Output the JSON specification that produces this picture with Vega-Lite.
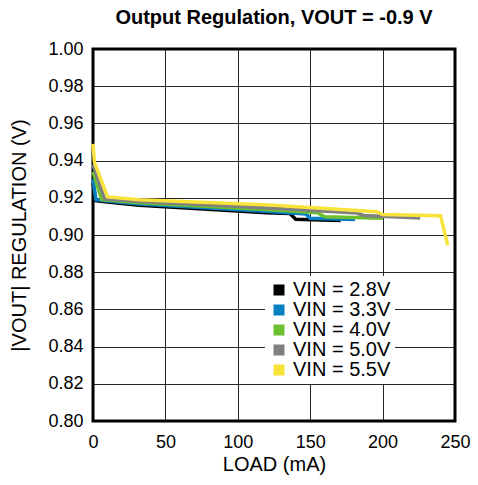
{
  "$schema": "https://vega.github.io/schema/vega-lite/v6.json",
  "autosize": {"type": "none"},
  "padding": {"left": 93, "top": 49, "right": 23, "bottom": 64},
  "width": 362,
  "height": 372,
  "background": "white",
  "title": {
    "text": "Output Regulation, VOUT = -0.9 V",
    "font": "Liberation Sans",
    "fontSize": 20,
    "fontWeight": "bold",
    "color": "#000000",
    "anchor": "middle",
    "offset": 12
  },
  "config": {
    "font": "Liberation Sans",
    "view": {"stroke": "#000000", "strokeWidth": 3},
    "axis": {
      "labelFont": "Liberation Sans",
      "titleFont": "Liberation Sans",
      "labelFontSize": 18,
      "titleFontSize": 20,
      "titleFontWeight": "normal",
      "labelColor": "#000000",
      "titleColor": "#000000",
      "labelFlush": false,
      "domain": false,
      "ticks": false,
      "grid": true,
      "gridColor": "#000000",
      "gridWidth": 1,
      "gridOpacity": 0.85
    }
  },
  "data": {
    "values": [
      {"load": 0, "v": 0.928, "s": "VIN = 2.8V"},
      {"load": 2, "v": 0.9185, "s": "VIN = 2.8V"},
      {"load": 10, "v": 0.9178, "s": "VIN = 2.8V"},
      {"load": 32, "v": 0.916, "s": "VIN = 2.8V"},
      {"load": 120, "v": 0.912, "s": "VIN = 2.8V"},
      {"load": 136, "v": 0.9115, "s": "VIN = 2.8V"},
      {"load": 140, "v": 0.9085, "s": "VIN = 2.8V"},
      {"load": 171, "v": 0.9078, "s": "VIN = 2.8V"},

      {"load": 0, "v": 0.930, "s": "VIN = 3.3V"},
      {"load": 2, "v": 0.919, "s": "VIN = 3.3V"},
      {"load": 10, "v": 0.9183, "s": "VIN = 3.3V"},
      {"load": 32, "v": 0.9166, "s": "VIN = 3.3V"},
      {"load": 122, "v": 0.9127, "s": "VIN = 3.3V"},
      {"load": 147, "v": 0.9113, "s": "VIN = 3.3V"},
      {"load": 150, "v": 0.909, "s": "VIN = 3.3V"},
      {"load": 181, "v": 0.9084, "s": "VIN = 3.3V"},

      {"load": 0, "v": 0.934, "s": "VIN = 4.0V"},
      {"load": 6, "v": 0.919, "s": "VIN = 4.0V"},
      {"load": 10, "v": 0.9188, "s": "VIN = 4.0V"},
      {"load": 32, "v": 0.9173, "s": "VIN = 4.0V"},
      {"load": 122, "v": 0.9136, "s": "VIN = 4.0V"},
      {"load": 155, "v": 0.912, "s": "VIN = 4.0V"},
      {"load": 160, "v": 0.9098, "s": "VIN = 4.0V"},
      {"load": 200, "v": 0.909, "s": "VIN = 4.0V"},

      {"load": 0, "v": 0.938, "s": "VIN = 5.0V"},
      {"load": 8, "v": 0.9195, "s": "VIN = 5.0V"},
      {"load": 32, "v": 0.918, "s": "VIN = 5.0V"},
      {"load": 122, "v": 0.9145, "s": "VIN = 5.0V"},
      {"load": 182, "v": 0.9118, "s": "VIN = 5.0V"},
      {"load": 187, "v": 0.9105, "s": "VIN = 5.0V"},
      {"load": 226, "v": 0.9092, "s": "VIN = 5.0V"},

      {"load": 0, "v": 0.949, "s": "VIN = 5.5V"},
      {"load": 1, "v": 0.939, "s": "VIN = 5.5V"},
      {"load": 10, "v": 0.9205, "s": "VIN = 5.5V"},
      {"load": 32, "v": 0.919, "s": "VIN = 5.5V"},
      {"load": 122, "v": 0.9161, "s": "VIN = 5.5V"},
      {"load": 196, "v": 0.9125, "s": "VIN = 5.5V"},
      {"load": 200, "v": 0.911, "s": "VIN = 5.5V"},
      {"load": 240, "v": 0.9104, "s": "VIN = 5.5V"},
      {"load": 245, "v": 0.8945, "s": "VIN = 5.5V"}
    ]
  },
  "mark": {"type": "line", "strokeWidth": 3.5, "strokeJoin": "miter", "strokeCap": "butt"},
  "encoding": {
    "x": {
      "field": "load",
      "type": "quantitative",
      "title": "LOAD (mA)",
      "scale": {"domain": [0, 250], "nice": false},
      "axis": {"values": [0, 50, 100, 150, 200, 250], "labelPadding": 12, "titlePadding": 3}
    },
    "y": {
      "field": "v",
      "type": "quantitative",
      "title": "|VOUT| REGULATION (V)",
      "scale": {"domain": [0.8, 1.0], "nice": false, "zero": false},
      "axis": {
        "values": [0.8, 0.82, 0.84, 0.86, 0.88, 0.9, 0.92, 0.94, 0.96, 0.98, 1.0],
        "format": ".2f",
        "labelPadding": 10,
        "titlePadding": 18
      }
    },
    "color": {
      "field": "s",
      "type": "nominal",
      "scale": {
        "domain": ["VIN = 2.8V", "VIN = 3.3V", "VIN = 4.0V", "VIN = 5.0V", "VIN = 5.5V"],
        "range": ["#000000", "#0A7EC2", "#6CBF2E", "#808080", "#F9E33B"]
      },
      "legend": {
        "title": null,
        "orient": "none",
        "legendX": 172,
        "legendY": 227,
        "fillColor": "white",
        "padding": 4,
        "symbolType": "square",
        "symbolSize": 121,
        "labelFont": "Liberation Sans",
        "labelFontSize": 20,
        "labelColor": "#000000",
        "labelOffset": 4,
        "rowPadding": -3,
        "labelExpr": "datum.label + '     '",
        "encode": {
          "symbols": {
            "update": {
              "fill": {"scale": "color", "field": "value"},
              "fillOpacity": {"value": 1},
              "strokeWidth": {"value": 0}
            }
          }
        }
      }
    }
  }
}
